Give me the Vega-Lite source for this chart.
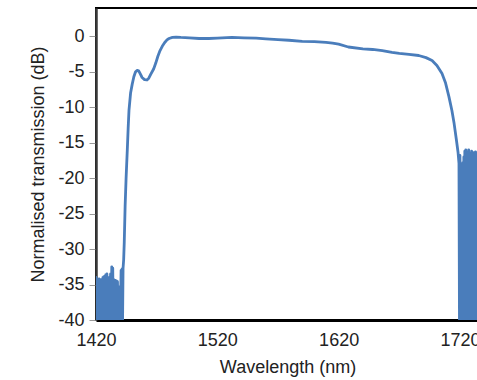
{
  "$schema": "https://vega.github.io/schema/vega-lite/v6.json",
  "autosize": {"type": "none"},
  "padding": {"left": 96, "top": 8, "right": 0, "bottom": 60},
  "width": 383,
  "height": 312,
  "background": "white",
  "view": {"stroke": "black", "strokeWidth": 2},
  "config": {
    "font": "Liberation Sans"
  },
  "data": {"values": [
    {"wl": 1420.0, "db": -40}, {"wl": 1420.1, "db": -34.0}, {"wl": 1420.5, "db": -40}, {"wl": 1420.9, "db": -34.8},
    {"wl": 1421.3, "db": -40}, {"wl": 1421.7, "db": -34.6}, {"wl": 1422.1, "db": -39}, {"wl": 1422.5, "db": -34.2},
    {"wl": 1422.9, "db": -40}, {"wl": 1423.3, "db": -34.5}, {"wl": 1423.7, "db": -38.5}, {"wl": 1424.1, "db": -34.3},
    {"wl": 1424.5, "db": -40}, {"wl": 1424.9, "db": -34.5}, {"wl": 1425.3, "db": -39}, {"wl": 1425.7, "db": -34.0},
    {"wl": 1426.1, "db": -40}, {"wl": 1426.5, "db": -33.9}, {"wl": 1426.9, "db": -40}, {"wl": 1427.3, "db": -33.8},
    {"wl": 1427.7, "db": -38.5}, {"wl": 1428.1, "db": -33.6}, {"wl": 1428.5, "db": -40}, {"wl": 1429.0, "db": -33.5},
    {"wl": 1429.5, "db": -40}, {"wl": 1430.0, "db": -34.2}, {"wl": 1430.5, "db": -40}, {"wl": 1431.0, "db": -34.0},
    {"wl": 1431.5, "db": -39}, {"wl": 1432.0, "db": -33.5}, {"wl": 1432.5, "db": -40}, {"wl": 1433.0, "db": -32.5},
    {"wl": 1433.4, "db": -38}, {"wl": 1433.8, "db": -32.7}, {"wl": 1434.2, "db": -40}, {"wl": 1434.7, "db": -34.3},
    {"wl": 1435.2, "db": -40}, {"wl": 1435.7, "db": -34.4}, {"wl": 1436.2, "db": -39}, {"wl": 1436.7, "db": -34.5},
    {"wl": 1437.2, "db": -40}, {"wl": 1437.7, "db": -34.6}, {"wl": 1438.2, "db": -39.5}, {"wl": 1438.7, "db": -35.5},
    {"wl": 1439.2, "db": -40}, {"wl": 1439.7, "db": -35.3}, {"wl": 1440.2, "db": -38}, {"wl": 1440.7, "db": -33.0},
    {"wl": 1441.1, "db": -40}, {"wl": 1441.5, "db": -32.8}, {"wl": 1441.9, "db": -40}, {"wl": 1442.3, "db": -32.7},
    {"wl": 1442.8, "db": -31.5}, {"wl": 1443.3, "db": -29}, {"wl": 1444.0, "db": -24}, {"wl": 1444.8, "db": -20},
    {"wl": 1445.8, "db": -16}, {"wl": 1446.5, "db": -13}, {"wl": 1447.2, "db": -10.4}, {"wl": 1448.5, "db": -8},
    {"wl": 1449.9, "db": -6.7}, {"wl": 1451.2, "db": -5.7}, {"wl": 1452.6, "db": -5.0}, {"wl": 1454.0, "db": -4.8},
    {"wl": 1455.2, "db": -4.85}, {"wl": 1456.5, "db": -5.3}, {"wl": 1458.0, "db": -5.8}, {"wl": 1460.0, "db": -6.1},
    {"wl": 1462.0, "db": -6.15}, {"wl": 1463.5, "db": -5.9}, {"wl": 1465.3, "db": -5.3}, {"wl": 1467.5, "db": -4.6},
    {"wl": 1469.2, "db": -3.8}, {"wl": 1471.0, "db": -2.8}, {"wl": 1472.8, "db": -2.0}, {"wl": 1474.6, "db": -1.4},
    {"wl": 1476.5, "db": -0.9}, {"wl": 1478.5, "db": -0.5}, {"wl": 1480.2, "db": -0.3}, {"wl": 1483, "db": -0.15},
    {"wl": 1486, "db": -0.1}, {"wl": 1490, "db": -0.15}, {"wl": 1497, "db": -0.2}, {"wl": 1505, "db": -0.3},
    {"wl": 1513, "db": -0.3}, {"wl": 1520, "db": -0.25}, {"wl": 1532, "db": -0.15}, {"wl": 1542, "db": -0.2},
    {"wl": 1552, "db": -0.25}, {"wl": 1560, "db": -0.35}, {"wl": 1570, "db": -0.45}, {"wl": 1579, "db": -0.55},
    {"wl": 1590, "db": -0.7}, {"wl": 1600, "db": -0.75}, {"wl": 1609.6, "db": -0.85}, {"wl": 1615, "db": -0.95},
    {"wl": 1620, "db": -1.1}, {"wl": 1628, "db": -1.5}, {"wl": 1640, "db": -1.75}, {"wl": 1648, "db": -1.85},
    {"wl": 1656, "db": -2.0}, {"wl": 1664, "db": -2.25}, {"wl": 1670, "db": -2.4}, {"wl": 1678, "db": -2.55},
    {"wl": 1686, "db": -2.7}, {"wl": 1692, "db": -3.0}, {"wl": 1697, "db": -3.4}, {"wl": 1701, "db": -4.1},
    {"wl": 1705.2, "db": -5.25}, {"wl": 1708, "db": -6.5}, {"wl": 1710.9, "db": -8.5}, {"wl": 1713.4, "db": -10.5},
    {"wl": 1715.2, "db": -12.3}, {"wl": 1717.0, "db": -14.5}, {"wl": 1718.4, "db": -16.3}, {"wl": 1719.2, "db": -17.9},
    {"wl": 1719.6, "db": -40}, {"wl": 1720.0, "db": -16.8}, {"wl": 1720.4, "db": -38}, {"wl": 1720.8, "db": -18.0},
    {"wl": 1721.2, "db": -40}, {"wl": 1721.6, "db": -22}, {"wl": 1722.0, "db": -40}, {"wl": 1722.4, "db": -17.8},
    {"wl": 1722.8, "db": -40}, {"wl": 1723.2, "db": -17.0}, {"wl": 1723.6, "db": -40}, {"wl": 1724.0, "db": -16.2},
    {"wl": 1724.4, "db": -40}, {"wl": 1724.8, "db": -16.0}, {"wl": 1725.2, "db": -40}, {"wl": 1725.6, "db": -17.2},
    {"wl": 1726.0, "db": -40}, {"wl": 1726.4, "db": -16.3}, {"wl": 1726.8, "db": -40}, {"wl": 1727.2, "db": -16.0},
    {"wl": 1727.6, "db": -40}, {"wl": 1728.0, "db": -16.5}, {"wl": 1728.4, "db": -40}, {"wl": 1728.8, "db": -16.6},
    {"wl": 1729.2, "db": -40}, {"wl": 1729.6, "db": -16.2}, {"wl": 1730.0, "db": -40}, {"wl": 1730.4, "db": -16.5},
    {"wl": 1730.8, "db": -40}, {"wl": 1731.2, "db": -16.4}, {"wl": 1731.6, "db": -40}, {"wl": 1732.0, "db": -16.6},
    {"wl": 1732.4, "db": -40}, {"wl": 1732.8, "db": -16.3}, {"wl": 1733.2, "db": -40}, {"wl": 1733.6, "db": -16.5},
    {"wl": 1734.0, "db": -40}, {"wl": 1734.4, "db": -16.4}, {"wl": 1734.8, "db": -40}, {"wl": 1735.2, "db": -16.5},
    {"wl": 1735.6, "db": -40}
  ]},
  "mark": {"type": "line", "color": "#4a7dbb", "strokeWidth": 2.8, "clip": true, "strokeJoin": "round"},
  "encoding": {
    "x": {
      "field": "wl", "type": "quantitative",
      "scale": {"domain": [1420, 1735.7], "nice": false, "zero": false},
      "axis": {
        "values": [1420, 1520, 1620, 1720],
        "format": "d",
        "grid": false,
        "ticks": false,
        "domainColor": "black",
        "domainWidth": 3,
        "labelFontSize": 18,
        "labelColor": "#222",
        "labelPadding": 11,
        "labelFlush": false,
        "labelOverlap": false,
        "title": "Wavelength (nm)",
        "titleFontSize": 18,
        "titleFontWeight": "normal",
        "titleColor": "#222",
        "titlePadding": 9
      }
    },
    "y": {
      "field": "db", "type": "quantitative",
      "scale": {"domain": [-40, 4], "nice": false, "zero": false},
      "axis": {
        "values": [-40, -35, -30, -25, -20, -15, -10, -5, 0],
        "labelExpr": "'' + datum.value",
        "grid": false,
        "domainColor": "#3a3a3a",
        "domainWidth": 2.5,
        "tickColor": "#999999",
        "tickSize": 7,
        "tickWidth": 1,
        "labelFontSize": 18,
        "labelColor": "#222",
        "labelPadding": 5,
        "labelFlush": false,
        "labelOverlap": false,
        "title": "Normalised transmission (dB)",
        "titleFontSize": 18,
        "titleFontWeight": "normal",
        "titleColor": "#222",
        "titlePadding": 10
      }
    }
  }
}
